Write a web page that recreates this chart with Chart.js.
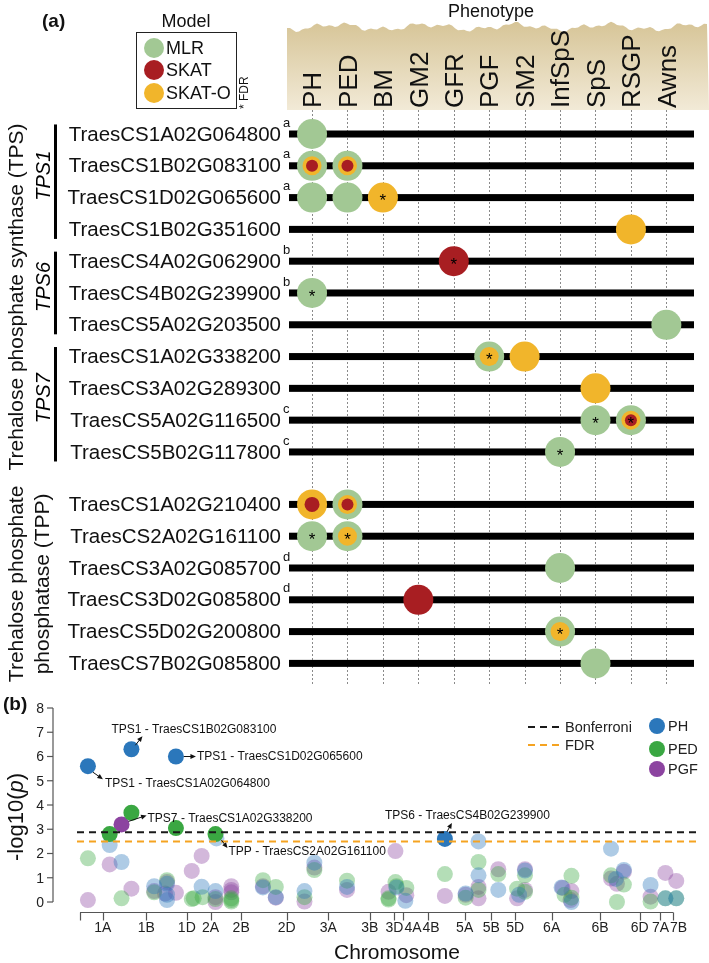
<!DOCTYPE html>
<html lang="en">
<head>
<meta charset="UTF-8">
<title>TPS / TPP gene associations</title>
<script src="https://cdn.jsdelivr.net/npm/chart.js"></script>
<style>
  html, body { margin: 0; padding: 0; background: #fff; }
  #wrap { position: relative; width: 709px; height: 963px; }
  #wrap canvas { position: absolute; left: 0; top: 0; }
</style>
</head>
<body>
<div id="wrap">
  <canvas id="matrixChart" width="709" height="963"></canvas>
  <canvas id="manhattanChart" width="709" height="963"></canvas>
</div>
<script>
// ---------- panel (a): gene x phenotype associations ----------
const genes = [
  'TraesCS1A02G064800', 'TraesCS1B02G083100', 'TraesCS1D02G065600', 'TraesCS1B02G351600',
  'TraesCS4A02G062900', 'TraesCS4B02G239900', 'TraesCS5A02G203500',
  'TraesCS1A02G338200', 'TraesCS3A02G289300', 'TraesCS5A02G116500', 'TraesCS5B02G117800',
  'TraesCS1A02G210400', 'TraesCS2A02G161100', 'TraesCS3A02G085700', 'TraesCS3D02G085800',
  'TraesCS5D02G200800', 'TraesCS7B02G085800'
];
const geneNotes = ['a', 'a', 'a', '', 'b', 'b', '', '', '', 'c', 'c', '', '', 'd', 'd', '', ''];
const phenotypes = ['PH', 'PED', 'BM', 'GM2', 'GFR', 'PGF', 'SM2', 'InfSpS', 'SpS', 'RSGP', 'Awns'];
const tpsGroups = [['TPS1', 0, 3], ['TPS6', 4, 6], ['TPS7', 7, 10]];
const tpsCount = 11; // first 11 genes are TPS, the rest TPP

// [gene index, phenotype]
const mlrHits = [[0, 'PH'], [1, 'PH'], [1, 'PED'], [2, 'PH'], [2, 'PED'], [5, 'PH'], [6, 'Awns'],
  [7, 'PGF'], [9, 'SpS'], [9, 'RSGP'], [10, 'InfSpS'], [11, 'PED'], [12, 'PH'], [12, 'PED'],
  [13, 'InfSpS'], [15, 'InfSpS'], [16, 'SpS']];
const skatOHits = [[1, 'PH'], [1, 'PED'], [2, 'BM'], [3, 'RSGP'], [7, 'PGF'], [7, 'SM2'], [8, 'SpS'],
  [9, 'RSGP'], [11, 'PH'], [11, 'PED'], [12, 'PED'], [15, 'InfSpS']];
const skatHits = [[1, 'PH'], [1, 'PED'], [4, 'GFR'], [9, 'RSGP'], [11, 'PH'], [11, 'PED'], [14, 'GM2']];
const fdrHits = [[2, 'BM'], [4, 'GFR'], [5, 'PH'], [7, 'PGF'], [9, 'SpS'], [9, 'RSGP'], [10, 'InfSpS'],
  [12, 'PH'], [12, 'PED'], [15, 'InfSpS']];

// ---------- panel (b): -log10(p) by chromosome ----------
const chromosomes = ['1A', '1B', '1D', '2A', '2B', '2D', '3A', '3B', '3D', '4A', '4B', '5A', '5B', '5D', '6A', '6B', '6D', '7A', '7B'];
const chromosomeTicks = [23, 67, 108, 132, 163, 209, 251, 293, 318, 327, 352, 389, 416, 440, 477, 526, 566, 587, 600];
const yTicks = [0, 1, 2, 3, 4, 5, 6, 7, 8];
const bonferroni = 2.88;
const fdrLine = 2.5;

const phHits = [[8, 5.6], [52, 6.3], [97, 6.0], [369, 2.6]];
const pedHits = [[30, 2.8], [52, 3.68], [97, 3.05], [137, 2.8]];
const pgfHits = [[42, 3.2]];

const phOther = [[30, 2.35], [42, 1.65], [75, 0.65], [88, 0.75], [88, 0.3], [88, 0.08], [123, 0.63],
  [138, 2.62], [137, 0.45], [185, 0.6], [198, 0.2], [227, 0.45], [237, 1.62], [270, 0.62], [320, 0.6],
  [329, 0.05], [390, 0.35], [403, 2.5], [403, 1.1], [423, 0.5], [444, 0.3], [450, 1.3], [487, 0.6],
  [497, 0.0], [537, 2.2], [542, 0.95], [550, 1.32], [577, 0.7], [592, 0.15], [603, 0.15]];
const pedOther = [[8, 1.8], [42, 0.15], [75, 0.4], [88, 0.9], [113, 0.12], [115, 0.15], [124, 0.2],
  [137, 0.12], [153, 0.15], [153, 0.02], [153, 0.08], [185, 0.9], [198, 0.62], [227, 0.2], [237, 1.32],
  [270, 0.88], [312, 0.15], [312, 0.1], [319, 0.82], [320, 0.65], [330, 0.58], [369, 1.15], [390, 0.18],
  [403, 1.65], [403, 0.5], [423, 1.15], [442, 0.55], [450, 1.1], [450, 0.42], [490, 0.3], [497, 1.08],
  [497, 0.18], [537, 1.1], [543, 0.0], [550, 0.72], [577, 0.02], [592, 0.15], [603, 0.15]];
const pgfOther = [[8, 0.08], [30, 1.55], [52, 0.55], [75, 0.45], [88, 0.82], [86, 0.35], [97, 0.38],
  [113, 1.28], [123, 1.9], [137, 0.2], [137, 0.0], [153, 0.65], [153, 0.5], [153, 0.4], [185, 0.65],
  [198, 0.18], [227, 0.02], [237, 1.42], [270, 0.5], [319, 2.1], [312, 0.42], [330, 0.28], [369, 0.25],
  [390, 0.3], [403, 0.62], [403, 0.15], [423, 1.35], [442, 0.15], [450, 1.35], [450, 0.5], [488, 0.58],
  [497, 0.45], [496, 0.08], [537, 0.97], [543, 0.75], [550, 1.25], [577, 0.22], [592, 1.2], [603, 0.87]];

// ---------- styles ----------
const FONT = '"Liberation Sans", Arial, sans-serif';
const GREEN = '#a2c894', RED = '#a81e22', ORANGE = '#f1b52b';
const PH_COL = '43,119,187', PED_COL = '58,167,66', PGF_COL = '140,68,160';

// row index -> y value (gap between TPS and TPP blocks)
function rowPos(i) { return i < tpsCount ? i : i + 0.65; }
function has(list, r, p) { return list.some(h => h[0] === r && h[1] === p); }
function layerRadius(r, p, model) {
  const layers = [];
  if (has(mlrHits, r, p)) layers.push('MLR');
  if (has(skatOHits, r, p)) layers.push('SKAT-O');
  if (has(skatHits, r, p)) layers.push('SKAT');
  const sizes = layers[0] === 'MLR' ? [15, 9.5, 6] : [15, 7.5];
  return sizes[layers.indexOf(model)];
}
function bubbles(list, model) {
  return list.map(([r, p]) => ({ x: phenotypes.indexOf(p), y: rowPos(r), r: layerRadius(r, p, model) }));
}

const matrixDecor = {
  id: 'matrixDecor',
  beforeDatasetsDraw(chart) {
    const { ctx, chartArea: area, scales: { x, y } } = chart;
    ctx.save();

    // header band with rough top
    const grad = ctx.createLinearGradient(0, 20, 0, 110);
    grad.addColorStop(0, '#d6c496');
    grad.addColorStop(1, '#f2ead7');
    ctx.fillStyle = grad;
    ctx.beginPath();
    ctx.moveTo(287, 110);
    for (let px = 287; px <= 709; px += 3) {
      const py = 27 + 2.5 * Math.sin(px * 0.07) + 1.8 * Math.sin(px * 0.19 + 1.3) + 1.2 * Math.sin(px * 0.47 + 0.4);
      ctx.lineTo(px, py);
    }
    ctx.lineTo(709, 110);
    ctx.closePath();
    ctx.fill();

    ctx.fillStyle = '#111';
    ctx.font = `18px ${FONT}`;
    ctx.textAlign = 'center';
    ctx.textBaseline = 'middle';
    ctx.fillText('Phenotype', 491, 12);

    // phenotype column labels
    ctx.font = `26px ${FONT}`;
    phenotypes.forEach((p, i) => {
      ctx.save();
      ctx.translate(x.getPixelForValue(i), 108);
      ctx.rotate(-Math.PI / 2);
      ctx.textAlign = 'left';
      ctx.textBaseline = 'alphabetic';
      ctx.fillText(p, 0, 9.3);
      ctx.restore();
    });

    // dotted column guides
    ctx.strokeStyle = '#8a8a8a';
    ctx.lineWidth = 1;
    ctx.setLineDash([2, 2]);
    phenotypes.forEach((p, i) => {
      const px = Math.round(x.getPixelForValue(i)) + 0.5;
      ctx.beginPath();
      ctx.moveTo(px, area.top);
      ctx.lineTo(px, area.bottom);
      ctx.stroke();
    });
    ctx.setLineDash([]);

    // gene lines and labels
    genes.forEach((g, i) => {
      const py = y.getPixelForValue(rowPos(i));
      ctx.fillStyle = '#000';
      ctx.fillRect(area.left, py - 3.5, area.right - area.left, 7);
      ctx.fillStyle = '#111';
      ctx.font = `20.5px ${FONT}`;
      ctx.textAlign = 'right';
      ctx.textBaseline = 'middle';
      ctx.fillText(g, 281, py + 1);
      if (geneNotes[i]) {
        ctx.font = `13px ${FONT}`;
        ctx.textAlign = 'left';
        ctx.fillText(geneNotes[i], 283, py - 11);
      }
    });

    // TPS sub-groups
    tpsGroups.forEach(([name, a, b]) => {
      const y0 = y.getPixelForValue(rowPos(a) - 0.3), y1 = y.getPixelForValue(rowPos(b) + 0.3);
      ctx.fillStyle = '#000';
      ctx.fillRect(54, y0, 3, y1 - y0);
      ctx.save();
      ctx.translate(44, (y0 + y1) / 2 - 6);
      ctx.rotate(-Math.PI / 2);
      ctx.font = `italic 20px ${FONT}`;
      ctx.textAlign = 'center';
      ctx.textBaseline = 'middle';
      ctx.fillText(name, 0, 0);
      ctx.restore();
    });

    // family labels
    const tpsMid = (y.getPixelForValue(rowPos(0)) + y.getPixelForValue(rowPos(tpsCount - 1))) / 2;
    const tppMid = (y.getPixelForValue(rowPos(tpsCount)) + y.getPixelForValue(rowPos(genes.length - 1))) / 2;
    ctx.font = `21px ${FONT}`;
    ctx.textAlign = 'center';
    ctx.textBaseline = 'middle';
    ctx.fillStyle = '#111';
    [[17, tpsMid + 4, 'Trehalose phosphate synthase (TPS)'],
     [17, tppMid, 'Trehalose phosphate'],
     [43, tppMid, 'phosphatase (TPP)']].forEach(([lx, ly, t]) => {
      ctx.save();
      ctx.translate(lx, ly);
      ctx.rotate(-Math.PI / 2);
      ctx.fillText(t, 0, 0);
      ctx.restore();
    });

    // panel tag + model legend
    ctx.font = `bold 19px ${FONT}`;
    ctx.textAlign = 'left';
    ctx.fillText('(a)', 42, 22);
    ctx.font = `18px ${FONT}`;
    ctx.textAlign = 'center';
    ctx.fillText('Model', 186, 22);
    ctx.strokeStyle = '#222';
    ctx.lineWidth = 1;
    ctx.strokeRect(136.5, 32.5, 100, 76);
    [['MLR', GREEN, 48], ['SKAT', RED, 70], ['SKAT-O', ORANGE, 93]].forEach(([t, c, ly]) => {
      ctx.fillStyle = c;
      ctx.beginPath();
      ctx.arc(154, ly, 10, 0, Math.PI * 2);
      ctx.fill();
      ctx.fillStyle = '#111';
      ctx.textAlign = 'left';
      ctx.fillText(t, 166, ly + 1);
    });
    ctx.save();
    ctx.translate(245, 109);
    ctx.rotate(-Math.PI / 2);
    ctx.font = `12px ${FONT}`;
    ctx.textAlign = 'left';
    ctx.fillText('* FDR', 0, 0);
    ctx.restore();

    ctx.restore();
  },
  afterDatasetsDraw(chart) {
    const { ctx, scales: { x, y } } = chart;
    ctx.save();
    ctx.fillStyle = '#000';
    ctx.font = `17px ${FONT}`;
    ctx.textAlign = 'center';
    ctx.textBaseline = 'middle';
    fdrHits.forEach(([r, p]) => {
      ctx.fillText('*', x.getPixelForValue(phenotypes.indexOf(p)), y.getPixelForValue(rowPos(r)) + 4);
    });
    ctx.restore();
  }
};

new Chart(document.getElementById('matrixChart'), {
  type: 'bubble',
  data: {
    datasets: [
      { label: 'MLR', data: bubbles(mlrHits, 'MLR'), backgroundColor: GREEN, borderWidth: 0, order: 3 },
      { label: 'SKAT-O', data: bubbles(skatOHits, 'SKAT-O'), backgroundColor: ORANGE, borderWidth: 0, order: 2 },
      { label: 'SKAT', data: bubbles(skatHits, 'SKAT'), backgroundColor: RED, borderWidth: 0, order: 1 }
    ]
  },
  options: {
    responsive: false,
    animation: false,
    devicePixelRatio: 1,
    layout: { padding: { left: 289, right: 5, top: 110, bottom: 278 } },
    scales: {
      x: { type: 'linear', display: false, min: -0.65, max: 10.78 },
      y: { type: 'linear', display: false, reverse: true, min: -0.755, max: 17.33 }
    },
    plugins: { legend: { display: false }, tooltip: { enabled: false } }
  },
  plugins: [matrixDecor]
});

// ---------- panel (b) ----------
const annotations = [
  { text: 'TPS1 - TraesCS1B02G083100', pt: phHits[1], from: [4, -4], to: [11, -13], at: [-20, -20] },
  { text: 'TPS1 - TraesCS1D02G065600', pt: phHits[2], from: [8, 0], to: [20, 0], at: [21, 0] },
  { text: 'TPS1 - TraesCS1A02G064800', pt: phHits[0], from: [5, 6], to: [15, 13], at: [17, 17] },
  { text: 'TPS7 - TraesCS1A02G338200', pt: pgfHits[0], from: [7, -3], to: [25, -9], at: [26, -6] },
  { text: 'TPP - TraesCS2A02G161100', pt: pedHits[3], from: [6, 6], to: [12, 14], at: [13, 18] },
  { text: 'TPS6 - TraesCS4B02G239900', pt: phHits[3], from: [2, -7], to: [7, -16], at: [-60, -23] }
];

function drawArrow(ctx, x1, y1, x2, y2) {
  const a = Math.atan2(y2 - y1, x2 - x1), h = 5.5, w = 2.4;
  ctx.beginPath();
  ctx.moveTo(x1, y1);
  ctx.lineTo(x2 - h * 0.7 * Math.cos(a), y2 - h * 0.7 * Math.sin(a));
  ctx.stroke();
  ctx.beginPath();
  ctx.moveTo(x2, y2);
  ctx.lineTo(x2 - h * Math.cos(a) + w * Math.sin(a), y2 - h * Math.sin(a) - w * Math.cos(a));
  ctx.lineTo(x2 - h * Math.cos(a) - w * Math.sin(a), y2 - h * Math.sin(a) + w * Math.cos(a));
  ctx.closePath();
  ctx.fill();
}

const manhattanDecor = {
  id: 'manhattanDecor',
  beforeDatasetsDraw(chart) {
    const { ctx, scales: { x, y } } = chart;
    ctx.save();
    ctx.strokeStyle = '#555';
    ctx.fillStyle = '#222';
    ctx.lineWidth = 1.2;

    // y axis
    const yTop = y.getPixelForValue(yTicks[yTicks.length - 1]), yBot = y.getPixelForValue(0);
    ctx.beginPath();
    ctx.moveTo(53, yTop);
    ctx.lineTo(53, yBot);
    ctx.stroke();
    ctx.font = `14px ${FONT}`;
    ctx.textAlign = 'right';
    ctx.textBaseline = 'middle';
    yTicks.forEach(v => {
      const py = y.getPixelForValue(v);
      ctx.beginPath();
      ctx.moveTo(47, py);
      ctx.lineTo(53, py);
      ctx.stroke();
      ctx.fillText(String(v), 44, py + 1);
    });

    // x axis
    const axisY = Math.round(yBot) + 10.5;
    const xStart = x.getPixelForValue(0), xEnd = x.getPixelForValue(chromosomeTicks[chromosomeTicks.length - 1]);
    ctx.beginPath();
    ctx.moveTo(xStart, axisY);
    ctx.lineTo(xEnd, axisY);
    ctx.stroke();
    [0, ...chromosomeTicks].forEach(v => {
      const px = Math.round(x.getPixelForValue(v)) + 0.5;
      ctx.beginPath();
      ctx.moveTo(px, axisY);
      ctx.lineTo(px, axisY + 8);
      ctx.stroke();
    });
    ctx.textAlign = 'center';
    let lastRight = -Infinity;
    chromosomes.forEach((c, i) => {
      const w = ctx.measureText(c).width;
      let cx = x.getPixelForValue(chromosomeTicks[i]);
      if (cx - w / 2 < lastRight + 1) cx = lastRight + 1 + w / 2;
      ctx.fillText(c, cx, axisY + 16);
      lastRight = cx + w / 2;
    });

    // titles
    ctx.font = `21px ${FONT}`;
    ctx.fillStyle = '#111';
    ctx.fillText('Chromosome', 397, 953);
    ctx.font = `bold 19px ${FONT}`;
    ctx.textAlign = 'left';
    ctx.fillText('(b)', 3, 705);

    ctx.save();
    ctx.translate(17, 817);
    ctx.rotate(-Math.PI / 2);
    const parts = [['-log10(', `22px ${FONT}`], ['p', `italic 22px ${FONT}`], [')', `22px ${FONT}`]];
    let total = 0;
    parts.forEach(([t, f]) => { ctx.font = f; total += ctx.measureText(t).width; });
    let cur = -total / 2;
    parts.forEach(([t, f]) => { ctx.font = f; ctx.fillText(t, cur, 0); cur += ctx.measureText(t).width; });
    ctx.restore();

    ctx.restore();
  },
  afterDatasetsDraw(chart) {
    const { ctx, chartArea: area, scales: { x, y } } = chart;
    ctx.save();

    // threshold lines
    ctx.lineWidth = 2;
    ctx.setLineDash([7, 5]);
    [[bonferroni, '#1a1a1a'], [fdrLine, '#f5a321']].forEach(([v, c]) => {
      const py = y.getPixelForValue(v);
      ctx.strokeStyle = c;
      ctx.beginPath();
      ctx.moveTo(area.left - 3, py);
      ctx.lineTo(area.right, py);
      ctx.stroke();
    });

    // legend
    ctx.font = `14.5px ${FONT}`;
    ctx.textAlign = 'left';
    ctx.textBaseline = 'middle';
    [['Bonferroni', '#1a1a1a', 727], ['FDR', '#f5a321', 745]].forEach(([t, c, ly]) => {
      ctx.strokeStyle = c;
      ctx.beginPath();
      ctx.moveTo(528, ly);
      ctx.lineTo(562, ly);
      ctx.stroke();
      ctx.fillStyle = '#222';
      ctx.fillText(t, 565, ly + 1);
    });
    ctx.setLineDash([]);
    [['PH', PH_COL, 726], ['PED', PED_COL, 749], ['PGF', PGF_COL, 769]].forEach(([t, c, ly]) => {
      ctx.fillStyle = `rgb(${c})`;
      ctx.beginPath();
      ctx.arc(657, ly, 8, 0, Math.PI * 2);
      ctx.fill();
      ctx.fillStyle = '#222';
      ctx.fillText(t, 668, ly + 1);
    });

    // annotations
    ctx.strokeStyle = '#111';
    ctx.fillStyle = '#111';
    ctx.lineWidth = 1;
    ctx.font = `12px ${FONT}`;
    annotations.forEach(a => {
      const px = x.getPixelForValue(a.pt[0]), py = y.getPixelForValue(a.pt[1]);
      drawArrow(ctx, px + a.from[0], py + a.from[1], px + a.to[0], py + a.to[1]);
      ctx.fillText(a.text, px + a.at[0], py + a.at[1]);
    });
    ctx.restore();
  }
};

function pts(list) { return list.map(([px, py]) => ({ x: px, y: py })); }
function series(label, list, col, alpha, order) {
  return { label, data: pts(list), backgroundColor: `rgba(${col},${alpha})`, pointRadius: 8,
    pointHoverRadius: 8, borderWidth: 0, clip: false, order };
}

new Chart(document.getElementById('manhattanChart'), {
  type: 'scatter',
  data: {
    datasets: [
      series('PH', phHits, PH_COL, 1, 0),
      series('PED', pedHits, PED_COL, 1, 0),
      series('PGF', pgfHits, PGF_COL, 1, 0),
      series('PH other', phOther, PH_COL, 0.38, 1),
      series('PED other', pedOther, PED_COL, 0.38, 1),
      series('PGF other', pgfOther, PGF_COL, 0.38, 1)
    ]
  },
  options: {
    responsive: false,
    animation: false,
    devicePixelRatio: 1,
    layout: { padding: { left: 80, right: 1, top: 708, bottom: 61 } },
    scales: {
      x: { type: 'linear', display: false, min: 0, max: 628 },
      y: { type: 'linear', display: false, min: 0, max: 8 }
    },
    plugins: { legend: { display: false }, tooltip: { enabled: false } }
  },
  plugins: [manhattanDecor]
});
</script>
</body>
</html>
